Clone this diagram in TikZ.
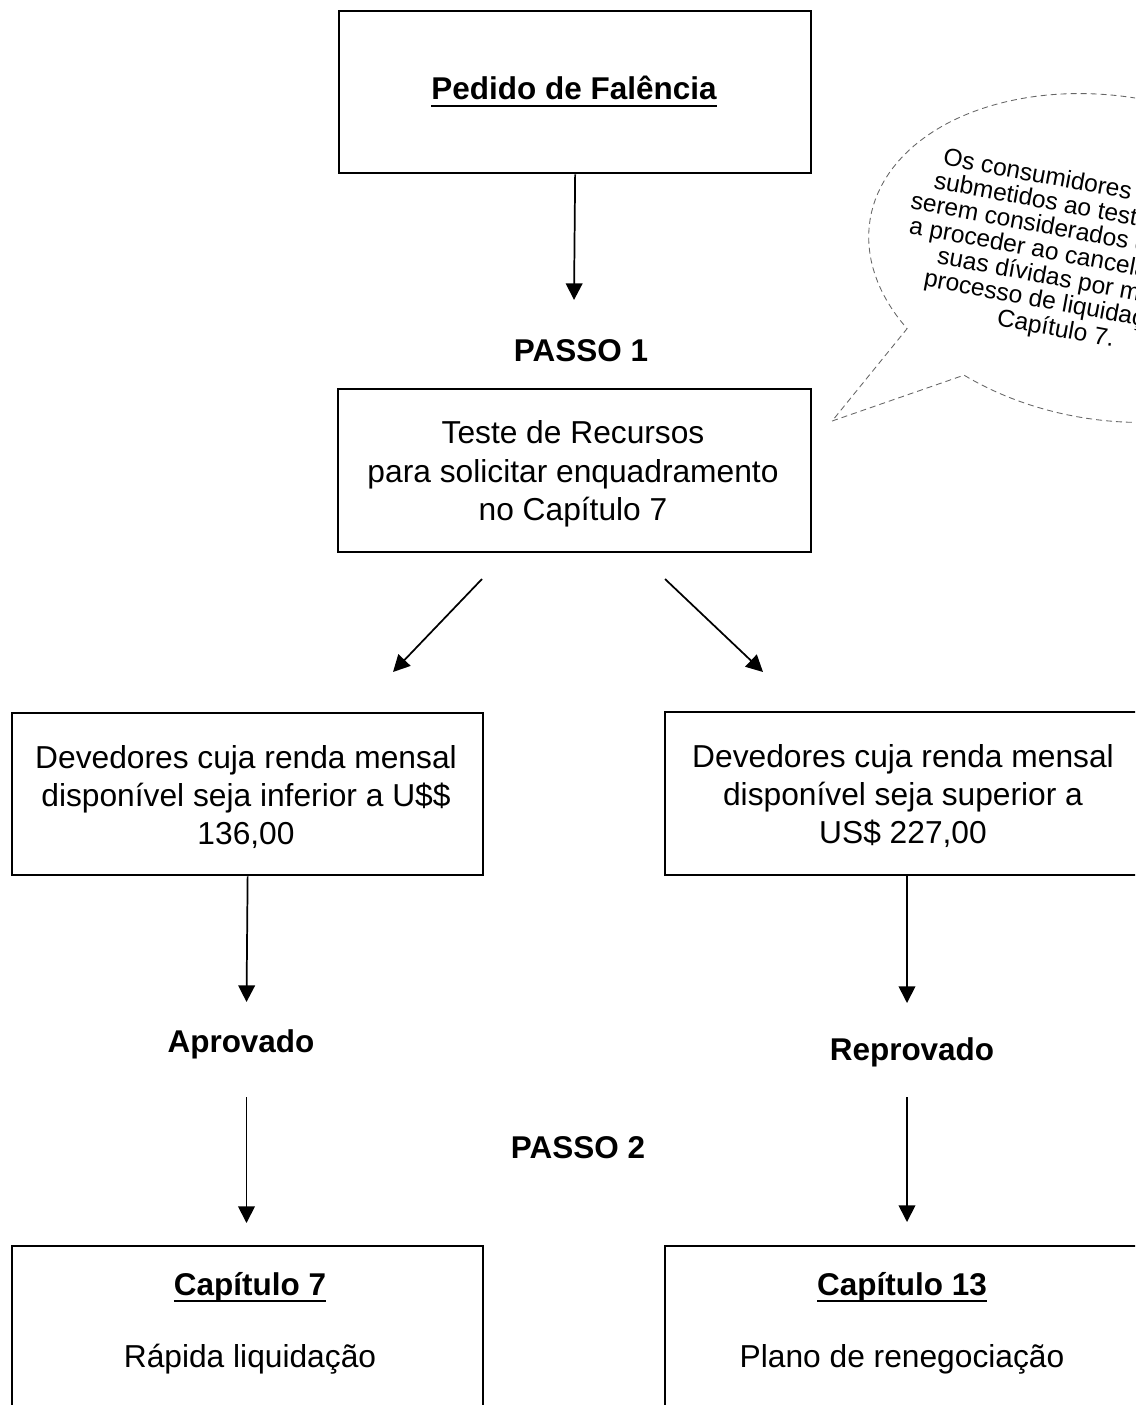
\documentclass[tikz,border=0pt]{standalone}
\usepackage{fontspec}
\setmainfont{Liberation Sans}
\usetikzlibrary{arrows.meta}
\newsavebox\myulbox
\newcommand\myul[1]{\sbox\myulbox{#1}\rlap{\rule[-5.25pt]{\wd\myulbox}{1.5pt}}\usebox\myulbox}
\begin{document}
\begin{tikzpicture}[x=0.75pt,y=-0.75pt,
  box/.style={draw, line width=1.7pt, inner sep=0pt, anchor=north west},
  txt/.style={font=\fontsize{23.8pt}{28.7pt}\selectfont, inner sep=0pt, anchor=base},
  lbl/.style={font=\fontsize{23.6pt}{28.7pt}\selectfont\bfseries, inner sep=0pt, anchor=base},
  arr/.style={line width=1.3pt, -{Triangle[length=12.5pt,width=12.5pt]}},
  bubble/.style={draw=black!60, line width=0.65pt, dash pattern=on 4.5pt off 3pt},
  note/.style={font=\fontsize{18.4pt}{18.4pt}\selectfont, inner sep=0pt, anchor=base west}
]
\useasboundingbox (0,0) rectangle (1135,1405);
\clip (0,0) rectangle (1135,1405);

% boxes
\node[box, minimum width=354pt, minimum height=121.5pt] (b1) at (338,10) {};
\node[box, minimum width=354.75pt, minimum height=122.25pt] (b2) at (337,388) {};
\node[box, minimum width=353.25pt, minimum height=121.5pt] (b3) at (11,712) {};
\node[box, minimum width=358.5pt, minimum height=122.25pt] (b4) at (664,711) {};
\node[box, minimum width=353.25pt, minimum height=135pt] (b5) at (11,1245) {};
\node[box, minimum width=358.5pt, minimum height=135pt] (b6) at (664,1245) {};

% box texts
\node[lbl] (t1) at (574,100) {\myul{Pedido de Falência}};
\node[txt] (t2a) at (573,443) {Teste de Recursos};
\node[txt] (t2b) at (573,482) {para solicitar enquadramento};
\node[txt] (t2c) at (573,520) {no Capítulo 7};
\node[txt] (t3a) at (246,768) {Devedores cuja renda mensal};
\node[txt] (t3b) at (246,806) {disponível seja inferior a U\$\$};
\node[txt] (t3c) at (246,844) {136,00};
\node[txt] (t4a) at (903,767) {Devedores cuja renda mensal};
\node[txt] (t4b) at (903,805) {disponível seja superior a};
\node[txt] (t4c) at (903,843) {US\$ 227,00};
\node[lbl] (t5a) at (250,1295) {\myul{Capítulo 7}};
\node[txt] (t5b) at (250,1367) {Rápida liquidação};
\node[lbl] (t6a) at (902,1295) {\myul{Capítulo 13}};
\node[txt] (t6b) at (902,1367) {Plano de renegociação};

% labels
\node[lbl] (p1) at (581,361) {PASSO 1};
\node[lbl] (ap) at (241,1052) {Aprovado};
\node[lbl] (rp) at (912,1060) {Reprovado};
\node[lbl] (p2) at (578,1158) {PASSO 2};

% arrow end points
\coordinate (e1) at (574,300);
\coordinate (d1s) at (482,579);
\coordinate (d1e) at (393,672);
\coordinate (d2s) at (665,579);
\coordinate (d2e) at (763,672);
\coordinate (e3) at (246.5,1002);
\coordinate (s4) at (907,874);
\coordinate (e4) at (907,1003);
\coordinate (s5) at (246.5,1097);
\coordinate (e5) at (246.5,1223);
\coordinate (s6) at (907,1097);
\coordinate (e6) at (907,1222);

\draw[arr] (b1.south) -- (e1);
\draw[arr] (d1s) -- (d1e);
\draw[arr] (d2s) -- (d2e);
\draw[arr] (b3.south) -- (e3);
\draw[arr] (s4) -- (e4);
\draw[arr] (s5) -- (e5);
\draw[arr] (s6) -- (e6);

% callout bubble
\begin{scope}[shift={(1110,258)}, rotate=-9]
  \coordinate (tip) at (-249,204.5);
  \draw[bubble] (tip) -- plot[domain=121.2:-218.8, samples=140] ({243*cos(\x)},{162*sin(\x)}) -- cycle;
\end{scope}
\begin{scope}[shift={(1110,258)}, rotate=-10.5, transform shape]
  \node[note] (n1) at (-182,-61) {Os consumidores d};
  \node[note] (n2) at (-187,-36.5) {submetidos ao teste};
  \node[note] (n3) at (-206,-12) {serem considerados q};
  \node[note] (n4) at (-203,12.5) {a proceder ao cancelam};
  \node[note] (n5) at (-170,37) {suas dívidas por m};
  \node[note] (n6) at (-179,61.5) {processo de liquidação};
  \node[note] (n7) at (-100,87) {Capítulo 7.};
\end{scope}
\end{tikzpicture}
\end{document}
